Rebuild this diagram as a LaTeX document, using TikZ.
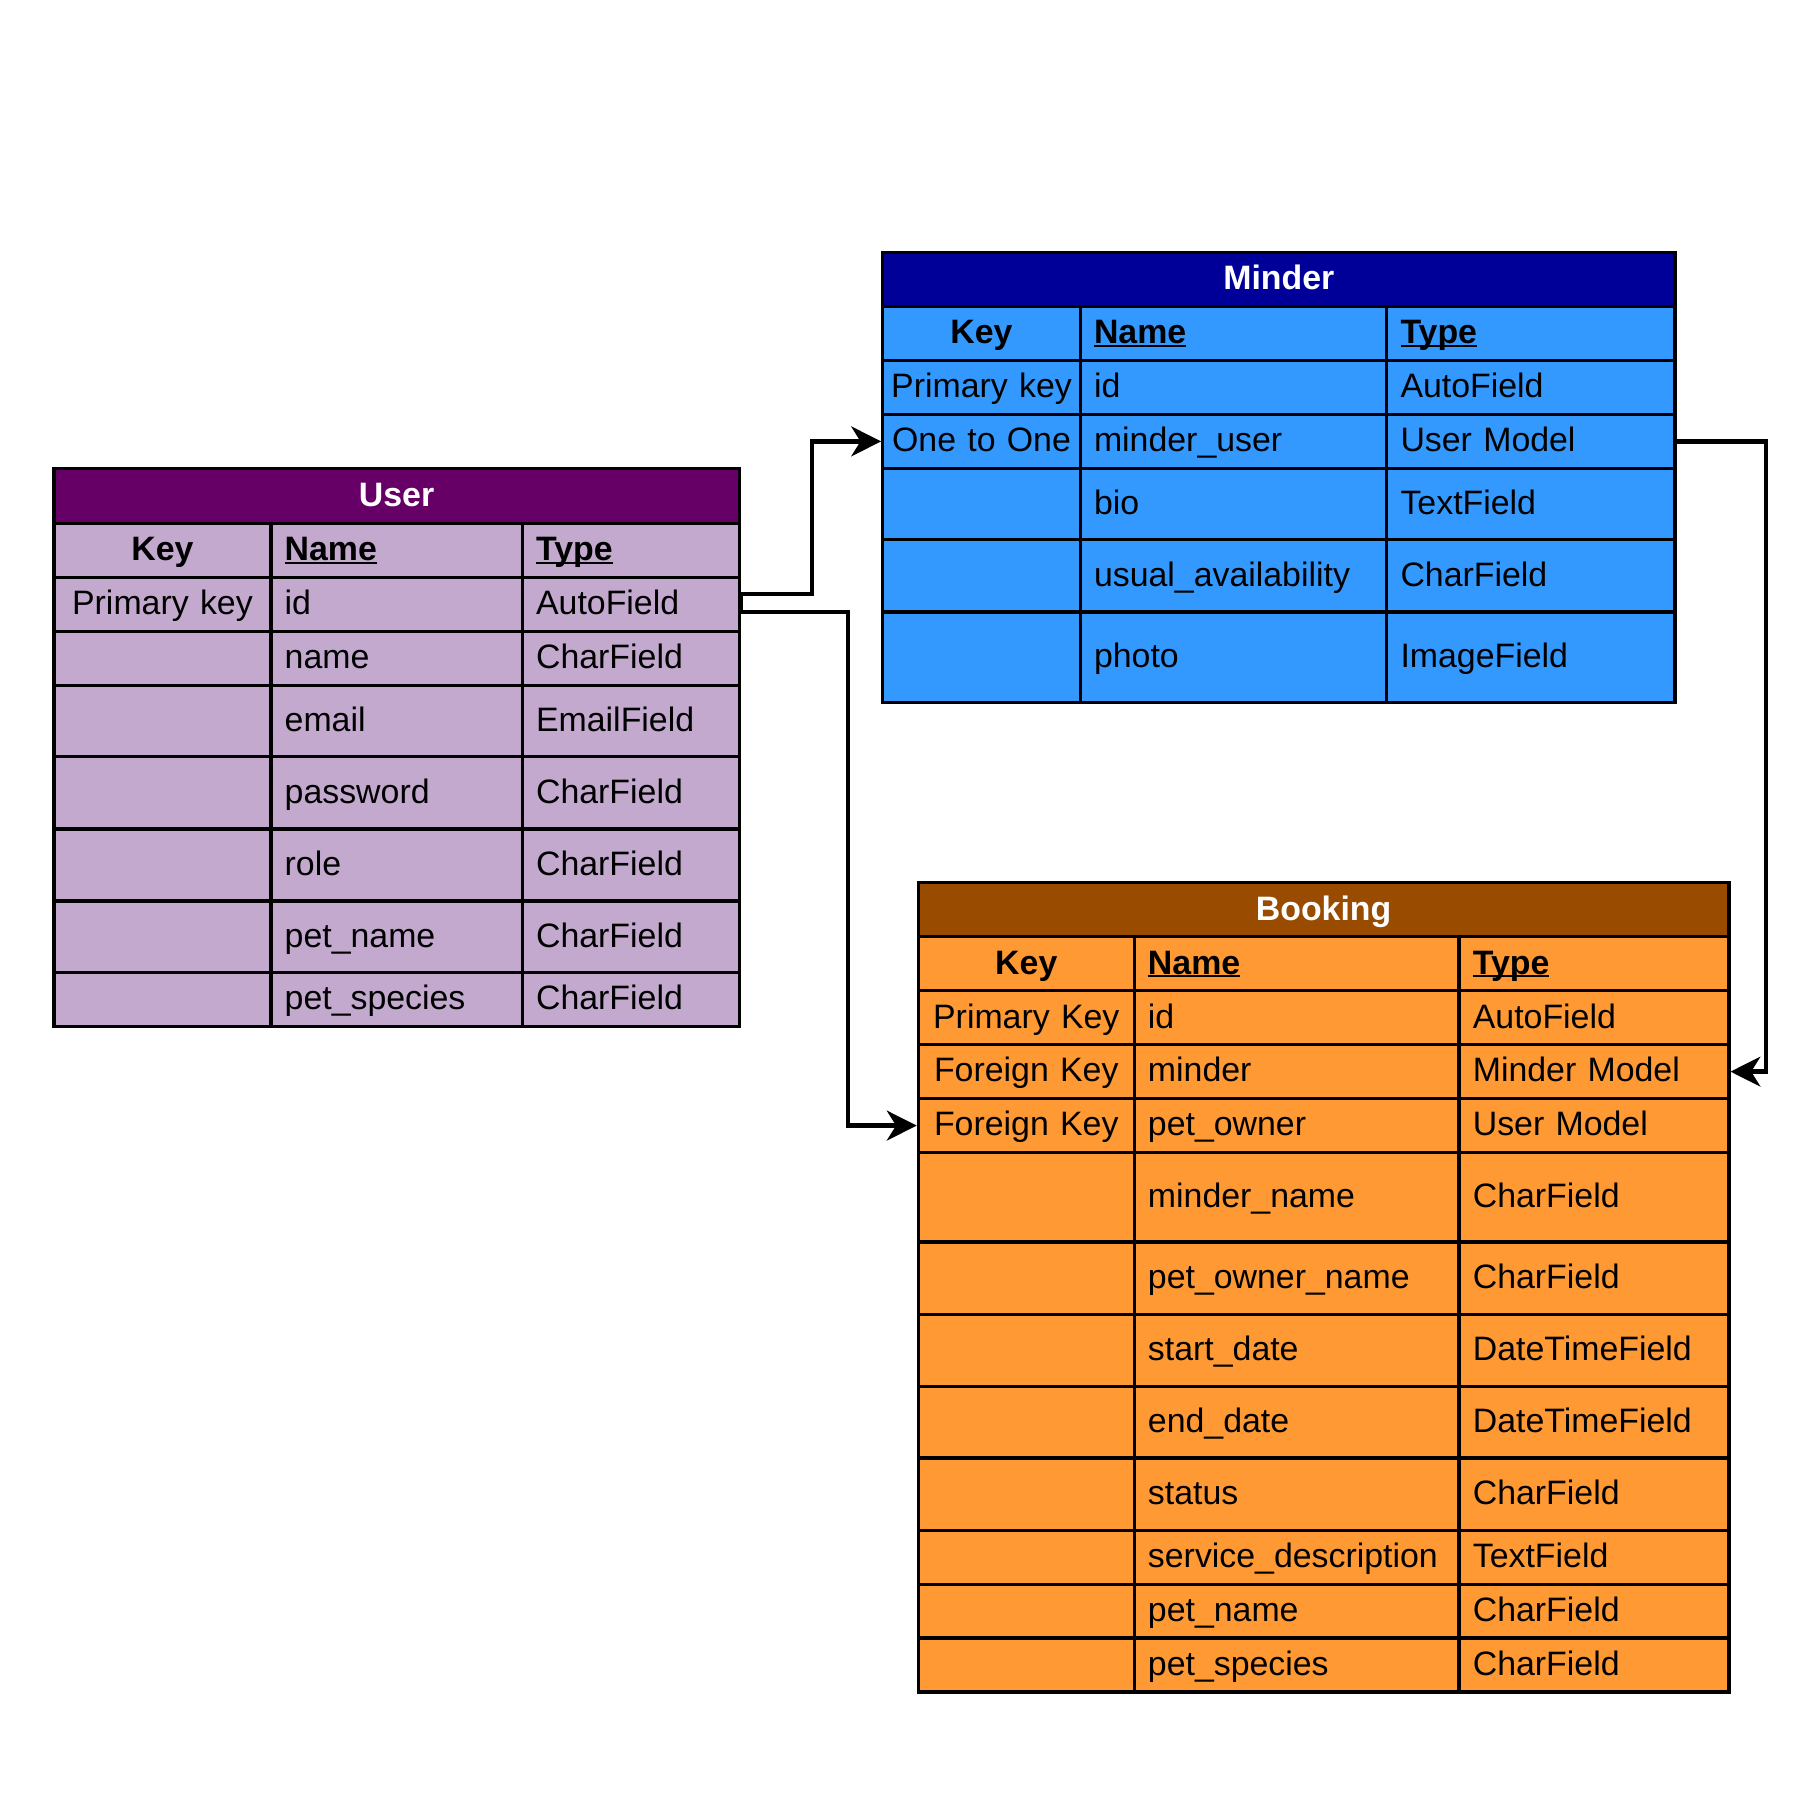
\documentclass[tikz,border=0pt]{standalone}
\usepackage{fontspec}
\setmainfont{Liberation Sans}
\usetikzlibrary{arrows.meta}
\definecolor{ubody}{HTML}{C3A9CE}
\definecolor{utitle}{HTML}{660066}
\definecolor{mbody}{HTML}{3399FF}
\definecolor{mtitle}{HTML}{000099}
\definecolor{bbody}{HTML}{FF9933}
\definecolor{btitle}{HTML}{994C00}
\newcommand\hul[1]{\setbox0=\hbox{#1}\rlap{\rule[-0.1em]{\wd0}{0.075em}}\box0}
\tikzset{
  cell/.style={draw=black, line width=2.9pt, inner xsep=12pt, inner ysep=0pt,
    font=\fontsize{29.5}{34}\selectfont, text height=18pt, text depth=0pt},
  titlecell/.style={cell, align=center, text=white, font=\fontsize{29.5}{34}\selectfont\bfseries},
  link/.style={draw=black, line width=3.8pt, line join=miter,
    -{Stealth[length=26pt,width=26pt,inset=8pt]}},
}
\newcommand\settable[6]{\def\tp{#1}\def\xa{#2}\def\xb{#3}\def\xc{#4}\def\xd{#5}\def\tf{#6}%
  \pgfmathsetmacro\wa{#3-#2}\pgfmathsetmacro\wb{#4-#3}\pgfmathsetmacro\wc{#5-#4}%
  \pgfmathsetmacro\wt{#5-#2}\pgfmathsetmacro\tt{#5-#2-24}%
  \pgfmathsetmacro\ta{#3-#2-6}\pgfmathsetmacro\tb{#4-#3-24}\pgfmathsetmacro\tc{#5-#4-24}%
  \pgfmathsetmacro\ma{(#2+#3)/2}\pgfmathsetmacro\mb{(#3+#4)/2}\pgfmathsetmacro\mc{(#4+#5)/2}%
  \pgfmathsetmacro\mt{(#2+#5)/2}}
\newcommand\etitle[4]{%
  \pgfmathsetmacro\rh{#2-#1}\pgfmathsetmacro\ry{-(#1+#2)/2}%
  \node[titlecell, fill=#3, minimum width=\wt pt, text width=\tt pt, minimum height=\rh pt] (\tp-title) at (\mt,\ry) {#4};}
\newcommand\erow[6]{%
  \pgfmathsetmacro\rh{#3-#2}\pgfmathsetmacro\ry{-(#2+#3)/2}%
  \node[cell, fill=\tf, align=center, inner xsep=3pt, minimum width=\wa pt, text width=\ta pt, minimum height=\rh pt] (\tp-#1-k) at (\ma,\ry) {#4};
  \node[cell, fill=\tf, align=left, minimum width=\wb pt, text width=\tb pt, minimum height=\rh pt] (\tp-#1-n) at (\mb,\ry) {#5};
  \node[cell, fill=\tf, align=left, minimum width=\wc pt, text width=\tc pt, minimum height=\rh pt] (\tp-#1-t) at (\mc,\ry) {#6};}
\begin{document}
\begin{tikzpicture}[x=1pt, y=1pt]
\useasboundingbox (0,0) rectangle (1568,-1568);
\fill[white] (0,0) rectangle (1568,-1568);
% ---------- User ----------
\settable{u}{47}{236}{455}{644}{ubody}
\etitle{408}{456}{utitle}{User}
\erow{hd}{456}{503}{\textbf{Key}}{\textbf{\hul{Name}}}{\textbf{\hul{Type}}}
\erow{id}{503}{550}{Primary key}{id}{AutoField}
\erow{name}{550}{597}{}{name}{CharField}
\erow{email}{597}{659}{}{email}{EmailField}
\erow{pw}{659}{722}{}{password}{CharField}
\erow{role}{722}{785}{}{role}{CharField}
\erow{pn}{785}{847}{}{pet\_name}{CharField}
\erow{ps}{847}{894}{}{pet\_species}{CharField}
% ---------- Minder ----------
\settable{m}{769}{941}{1208}{1459}{mbody}
\etitle{220}{267}{mtitle}{Minder}
\erow{hd}{267}{314}{\textbf{Key}}{\textbf{\hul{Name}}}{\textbf{\hul{Type}}}
\erow{id}{314}{361}{Primary key}{id}{AutoField}
\erow{mu}{361}{408}{One to One}{minder\_user}{User Model}
\erow{bio}{408}{470}{}{bio}{TextField}
\erow{ua}{470}{533}{}{usual\_availability}{CharField}
\erow{ph}{533}{612}{}{photo}{ImageField}
% ---------- Booking ----------
\settable{b}{800}{988}{1271}{1506}{bbody}
\etitle{769}{816}{btitle}{Booking}
\erow{hd}{816}{863}{\textbf{Key}}{\textbf{\hul{Name}}}{\textbf{\hul{Type}}}
\erow{pk}{863}{910}{Primary Key}{id}{AutoField}
\erow{fka}{910}{957}{Foreign Key}{minder}{Minder Model}
\erow{fkb}{957}{1004}{Foreign Key}{pet\_owner}{User Model}
\erow{mn}{1004}{1082}{}{minder\_name}{CharField}
\erow{pon}{1082}{1145}{}{pet\_owner\_name}{CharField}
\erow{sd}{1145}{1208}{}{start\_date}{DateTimeField}
\erow{ed}{1208}{1270}{}{end\_date}{DateTimeField}
\erow{st}{1270}{1333}{}{status}{CharField}
\erow{sv}{1333}{1380}{}{service\_description}{TextField}
\erow{pn}{1380}{1427}{}{pet\_name}{CharField}
\erow{ps}{1427}{1474}{}{pet\_species}{CharField}
% ---------- connectors ----------
\draw[link] ([yshift=-6.5pt]u-id-t.east) -- ([yshift=9pt]u-id-t.east) -- ++(62,0) |- (m-mu-k.west);
\draw[link] ([yshift=-6.5pt]u-id-t.east) -- ++(93,0) |- (b-fkb-k.west);
\draw[link] (m-mu-t.east) -- ++(78,0) |- (b-fka-t.east);
\end{tikzpicture}
\end{document}
